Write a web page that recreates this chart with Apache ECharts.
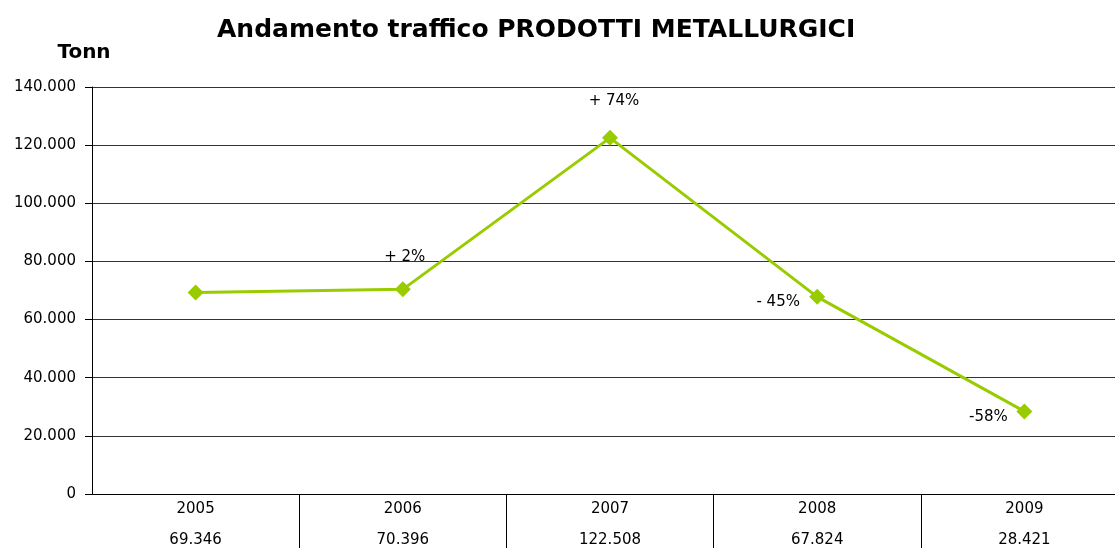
<!DOCTYPE html>
<html>
<head>
<meta charset="utf-8">
<script src="https://cdn.jsdelivr.net/npm/echarts@6/dist/echarts.min.js"></script>
<style>
  html, body { margin: 0; padding: 0; background: #fff; }
  #chart { width: 1115px; height: 548px; }
</style>
</head>
<body>
<div id="chart"></div>
<script>
// dati
var years = ['2005', '2006', '2007', '2008', '2009'];
var tonn = [69346, 70396, 122508, 67824, 28421];
var variazioni = ['', '+ 2%', '+ 74%', '- 45%', '-58%'];
var yTicks = [0, 20000, 40000, 60000, 80000, 100000, 120000, 140000];

// posizione etichette rispetto al punto
var labelOffsets = [[0, 0], [2, -32], [4, -37], [-39, 5], [-36, 6]];

function fmt(n) {
  // separatore delle migliaia con il punto
  return String(n).replace(/\B(?=(\d{3})+(?!\d))/g, '.');
}

var FONT = 'DejaVu Sans, Arial, sans-serif';
var chart = echarts.init(document.getElementById('chart'));

var option = {
  animation: false,
  backgroundColor: '#fff',
  title: {
    text: 'Andamento traffico PRODOTTI METALLURGICI',
    left: 212,
    top: 13,
    textStyle: { fontFamily: FONT, fontSize: 25, fontWeight: 'bold', color: '#000' }
  },
  grid: { left: 92, top: 87, right: -13, bottom: 54, outerBoundsMode: 'none' },
  xAxis: {
    type: 'category',
    data: years,
    boundaryGap: true,
    axisLine: { lineStyle: { color: '#000', width: 1 } },
    axisTick: {
      show: true,
      length: 60,
      inside: false,
      interval: function (idx) { return idx !== 0; },
      lineStyle: { color: '#000', width: 1 }
    },
    axisLabel: {
      margin: 0,
      interval: 0,
      formatter: function (v, i) {
        return '{y|' + v + '}\n{v|' + fmt(tonn[i]) + '}';
      },
      rich: {
        y: { fontFamily: FONT, fontSize: 15, color: '#000', lineHeight: 31 },
        v: { fontFamily: FONT, fontSize: 15, color: '#000', lineHeight: 31 }
      }
    }
  },
  yAxis: {
    type: 'value',
    min: yTicks[0],
    max: yTicks[yTicks.length - 1],
    interval: yTicks[1] - yTicks[0],
    name: 'Tonn',
    nameLocation: 'end',
    nameGap: 34,
    nameTextStyle: {
      fontFamily: FONT, fontSize: 20, fontWeight: 'bold', color: '#000',
      align: 'center', verticalAlign: 'middle', padding: [0, 16, 0, 0]
    },
    axisLine: { show: true, lineStyle: { color: '#000', width: 1 } },
    axisTick: { show: true, length: 7, lineStyle: { color: '#000' } },
    axisLabel: {
      margin: 16,
      fontFamily: FONT, fontSize: 15, color: '#000',
      formatter: function (v) { return fmt(v); }
    },
    splitLine: { show: true, lineStyle: { color: '#333', width: 1 } }
  },
  series: [{
    type: 'line',
    data: tonn.map(function (v, i) {
      return {
        value: v,
        label: {
          show: variazioni[i] !== '',
          formatter: variazioni[i],
          position: 'inside',
          offset: labelOffsets[i]
        }
      };
    }),
    symbol: 'diamond',
    symbolSize: 16,
    lineStyle: { color: '#99cc00', width: 3 },
    itemStyle: { color: '#99cc00' },
    label: { fontFamily: FONT, fontSize: 15, color: '#000' }
  }]
};

chart.setOption(option);
</script>
</body>
</html>
